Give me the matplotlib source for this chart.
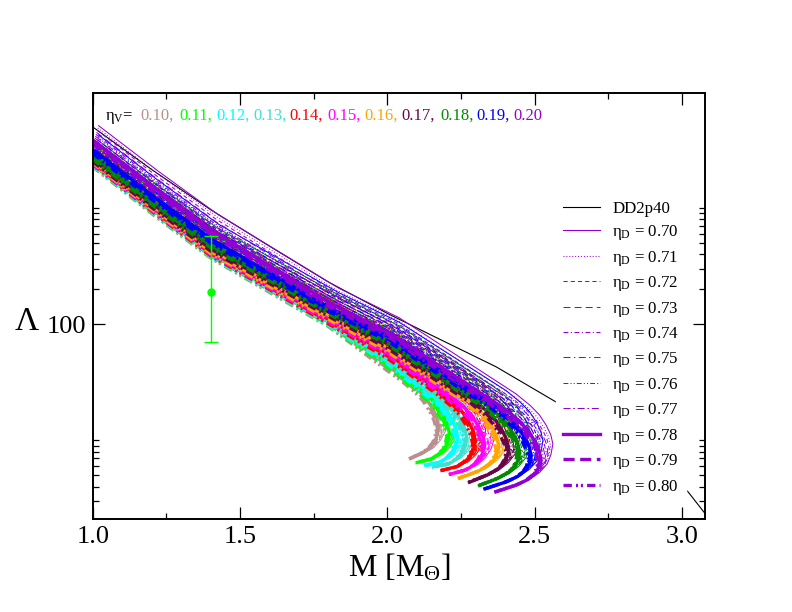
import numpy as np
import matplotlib
matplotlib.use("Agg")
import matplotlib.pyplot as plt
from matplotlib.lines import Line2D
from matplotlib.ticker import FixedLocator, FixedFormatter, NullFormatter

plt.rcParams['font.family'] = ['Liberation Serif', 'DejaVu Serif']
plt.rcParams['mathtext.fontset'] = 'custom'
plt.rcParams['mathtext.rm'] = 'Liberation Serif'
plt.rcParams['mathtext.it'] = 'Liberation Serif:italic'
plt.rcParams['lines.scale_dashes'] = False

# ---------------- data ----------------
eta_V_labels = ['0.10', '0.11', '0.12', '0.13', '0.14', '0.15', '0.16', '0.17', '0.18', '0.19', '0.20']
eta_V_colors = ['#BC8F8F', '#00FF00', '#00FFFF', '#40E0D0', '#FF0000', '#FF00FF',
                '#FFA500', '#670748', '#008B00', '#0000FF', '#9400D3']
eta_D_labels = ['0.70', '0.71', '0.72', '0.73', '0.74', '0.75', '0.76', '0.77', '0.78', '0.79', '0.80']

# Lambda of the eta_D = 0.80 curve of each eta_V family at fixed masses
mass_grid = [1.0, 1.2, 1.4, 1.6, 1.8, 2.0]
lam_m10 = [2265, 2291, 2317, 2344, 2371, 2399, 2455, 2512, 2630, 2951, 3548]
lam_m12 = [897, 908, 918, 929, 940, 955, 977, 1012, 1072, 1189, 1429]
lam_m14 = [372, 376, 380, 385, 389, 398, 407, 427, 457, 501, 603]
lam_m16 = [188, 191, 193, 195, 199, 204, 211, 224, 237, 254, 292]
lam_m18 = [95.5, 96.6, 97.7, 98.9, 101, 105, 110, 117, 123, 129, 141]
lam_m20 = [39.8, 42.7, 45.6, 48.2, 50.9, 54.1, 57.9, 61.9, 66.8, 72.1, 78.7]
# maximum-mass point of each family
m_max = [2.166, 2.202, 2.230, 2.261, 2.290, 2.321, 2.369, 2.403, 2.440, 2.479, 2.512]
lam_at_max = [12.3, 10.8, 10.1, 9.8, 9.3, 8.7, 8.4, 7.85, 7.35, 6.87, 6.44]
# last point of the unstable branch
m_end = [2.072, 2.094, 2.123, 2.151, 2.180, 2.207, 2.236, 2.270, 2.304, 2.326, 2.360]
lam_end = [6.9, 6.37, 6.04, 5.85, 5.47, 5.06, 4.66, 4.30, 4.03, 3.79, 3.56]
# shape of the turning region relative to the maximum (read from the 0.10 family)
approach_dm = [-0.122, -0.075, -0.045, -0.022, -0.007, 0.0]
approach_ratio = [2.69, 2.14, 1.78, 1.445, 1.20, 1.0]
hook_dm = [-0.004, -0.012, -0.028, -0.050]
hook_ratio = [0.871, 0.776, 0.692, 0.631]
hook_ref_len = 0.094
# fraction of the eta_D shift kept along the unstable branch (hook points + end)
hook_shift_weight = [0.8, 0.6, 0.45, 0.3, 0.2]

# eta_D dependence: mass stretch and log10 Lambda shift
eta_D_mass_stretch = [1.020, 1.017, 1.015, 1.013, 1.011, 1.009, 1.007, 1.005, 1.004, 1.002, 1.000]
eta_D_log_shift = [0.160, 0.140, 0.120, 0.102, 0.085, 0.069, 0.054, 0.040, 0.028, 0.014, 0.000]

# DD2p40 reference EOS
dd2_mass = [1.0, 1.2, 1.4, 1.6, 1.8, 2.0, 2.15, 2.37, 2.57, 2.8, 3.02, 3.10]
dd2_lam = [5000, 2150, 970, 470, 231, 124, 80.4, 42.9, 21.6, 8.9, 3.63, 2.0]

# GW170817 constraint
gw_mass = [1.4]
gw_lam = [190]
gw_err_low = [120]
gw_err_high = [390]

# ---------------- styles ----------------
thin = 0.75
thick = 2.4
eta_D_styles = [
    ('-', thin),
    ((0, (0.7, 1.4)), thin),
    ((0, (3, 2.2)), thin),
    ((0, (5, 3)), thin),
    ((0, (3.5, 1.8, 0.8, 1.8)), thin),
    ((0, (5, 2.5, 1, 2.5)), thin),
    ((0, (3.5, 1.5, 0.8, 1.5, 0.8, 1.5)), thin),
    ((0, (5, 2, 1.2, 2)), thin),
    ('-', thick),
    ((0, (8, 4)), thick),
    ((0, (6, 3, 1.5, 2, 1.5, 3)), thick),
]

fig = plt.figure(figsize=(7.92, 6.12), dpi=100)
L, R, B, T = 92.7, 704.5, 519.0, 92.5
W, H = 792.0, 612.0
ax = fig.add_axes([L / W, 1 - B / H, (R - L) / W, (B - T) / H])

ax.plot(dd2_mass, dd2_lam, color='black', lw=0.8, zorder=1)

lam_grid = [lam_m10, lam_m12, lam_m14, lam_m16, lam_m18, lam_m20]
n_upper = len(mass_grid) + len(approach_dm)
for c in range(len(eta_V_labels)):
    h = (m_max[c] - m_end[c]) / hook_ref_len
    masses = list(mass_grid)
    lams = [lam_grid[k][c] for k in range(len(mass_grid))]
    masses += [m_max[c] + d for d in approach_dm]
    lams += [lam_at_max[c] * r for r in approach_ratio]
    masses += [m_max[c] + h * d for d in hook_dm]
    lams += [lam_at_max[c] * r for r in hook_ratio]
    masses.append(m_end[c])
    lams.append(lam_end[c])
    masses = np.array(masses)
    lams = np.array(lams)
    weight = np.array([1.0] * n_upper + hook_shift_weight)
    for j in range(len(eta_D_labels)):
        ls, lw = eta_D_styles[j]
        ax.plot(masses * eta_D_mass_stretch[j], lams * 10 ** (eta_D_log_shift[j] * weight),
                color=eta_V_colors[c], ls=ls, lw=lw, zorder=2)

ax.errorbar(gw_mass, gw_lam, yerr=[gw_err_low, gw_err_high], fmt='o',
            color='#00FF00', ms=5, capsize=4.7, elinewidth=1.0, capthick=1.0, zorder=5)

ax.set_yscale('log')
ax.set_xlim(1.0, 3.077)
ax.set_ylim(2.1, 9900)

ax.xaxis.set_major_locator(FixedLocator([1.0, 1.5, 2.0, 2.5, 3.0]))
ax.xaxis.set_major_formatter(FixedFormatter(['1.0', '1.5', '2.0', '2.5', '3.0']))
ax.xaxis.set_minor_locator(FixedLocator([1.25, 1.75, 2.25, 2.75]))
ax.yaxis.set_major_locator(FixedLocator([100]))
ax.yaxis.set_major_formatter(FixedFormatter(['100']))
ax.yaxis.set_minor_locator(FixedLocator([3, 4, 5, 6, 7, 8, 9, 10,
                                         200, 300, 400, 500, 600, 700, 800, 900, 1000]))
ax.yaxis.set_minor_formatter(NullFormatter())

ax.tick_params(which='both', direction='in', top=True, right=True, width=0.9, colors='black')
ax.tick_params(which='major', length=8.6, labelsize=19, pad=5)
ax.tick_params(which='minor', length=4.3)
for s in ax.spines.values():
    s.set_linewidth(1.4)

ax.set_xlabel('M [M$_\\mathrm{Θ}$]', fontsize=23)
ax.xaxis.set_label_coords((400 - L) / (R - L), (B - 568) / (B - T))
ax.xaxis.label.set_va('center')
ax.set_ylabel('Λ', fontsize=24, rotation=0)
ax.yaxis.set_label_coords((27 - L) / (R - L), (B - 322) / (B - T))
ax.yaxis.label.set_va('center')
ax.yaxis.label.set_ha('center')


def axfrac(px, py):
    return (px - L) / (R - L), (B - py) / (B - T)


# eta_V annotation
fx, fy = axfrac(105, 120)
ax.text(fx, fy, 'η$_\\mathrm{V}$=', transform=ax.transAxes, fontsize=12,
        ha='left', va='baseline', color='black', zorder=6)
ann_x = [140, 179.3, 216.7, 253.3, 289.3, 327.3, 364, 401.7, 440, 476.7, 513.3]
for i, lab in enumerate(eta_V_labels):
    tx, ty = axfrac(ann_x[i], 120)
    txt = lab + (',' if i < len(eta_V_labels) - 1 else '')
    ax.text(tx, ty, txt, transform=ax.transAxes, fontsize=12, ha='left',
            va='baseline', color=eta_V_colors[i], zorder=6)

# legend
handles = [Line2D([], [], color='black', lw=0.8)]
labels = ['DD2p40']
for j in range(len(eta_D_labels)):
    ls, lw = eta_D_styles[j]
    handles.append(Line2D([], [], color='#9400D3', ls=ls, lw=lw))
    labels.append('η$_\\mathrm{D}$ = ' + eta_D_labels[j])
lx, ly = axfrac(556, 194)
leg = ax.legend(handles, labels, loc='upper left', bbox_to_anchor=(lx, ly),
                bbox_transform=ax.transAxes, borderaxespad=0, frameon=True,
                fancybox=False, facecolor='white', edgecolor='white', framealpha=1,
                fontsize=12.2, handlelength=2.2, handletextpad=0.72,
                labelspacing=0.38, borderpad=0.4)
leg.set_zorder(10)

fig.savefig('out.png', dpi=100)
